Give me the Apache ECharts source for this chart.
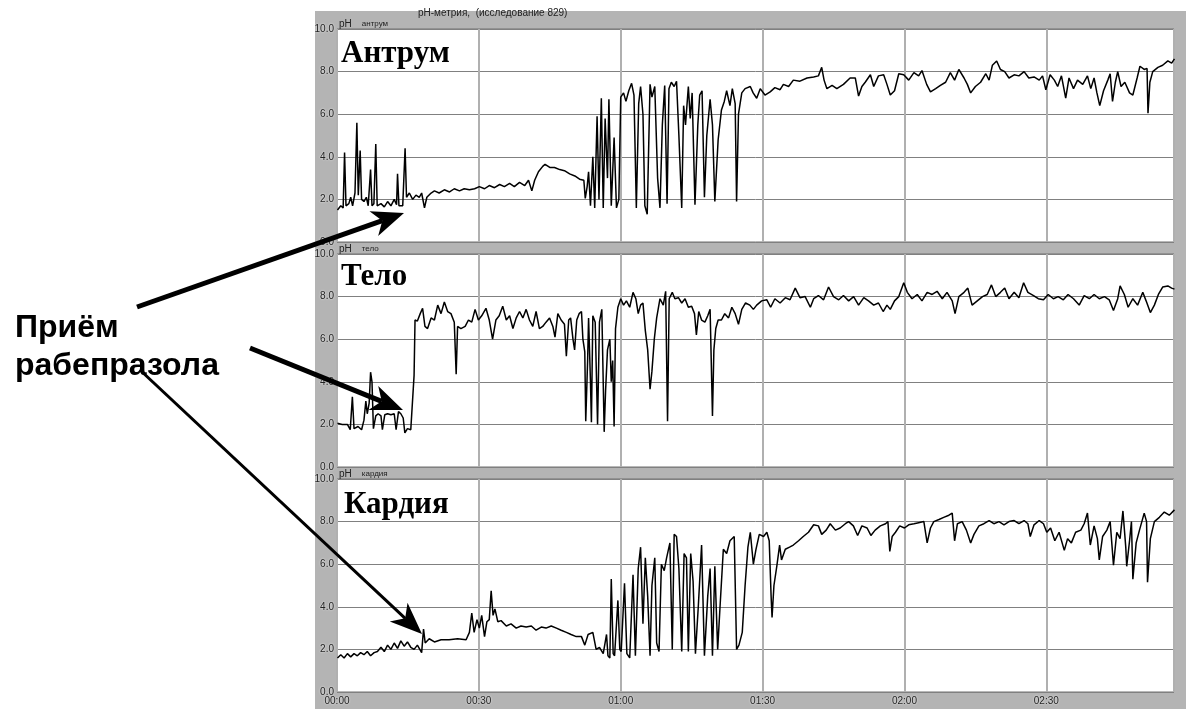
<!DOCTYPE html>
<html lang="ru">
<head>
<meta charset="UTF-8">
<title>pH-метрия</title>
<script src="https://cdn.jsdelivr.net/npm/echarts@6/dist/echarts.min.js"></script>
<style>
    html, body { margin: 0; padding: 0; background: #fff; }
    #chart { width: 1186px; height: 709px; }
</style>
</head>
<body>
<div id="chart"></div>
<script>
// время в минутах от начала, pH
var antrum = [
    [0.1,1.5],[0.8,1.7],[1.3,1.6],[1.6,4.2],[1.9,1.7],[2.5,1.8],[2.9,2.1],[3.3,1.7],[3.8,2.3],[4.2,5.6],
    [4.5,2.2],[4.9,4.3],[5.2,2.0],[5.7,1.9],[6.2,2.1],[6.6,1.7],[7.1,3.4],[7.4,1.7],[7.8,1.8],[8.2,4.6],
    [8.5,1.7],[9.3,1.8],[10.0,1.65],[10.7,1.9],[11.4,1.7],[12.1,2.0],[12.6,1.75],[12.8,3.2],[13.1,1.7],[13.9,1.7],
    [14.4,4.4],[14.7,2.1],[15.3,2.3],[16.0,2.0],[16.7,2.2],[17.4,2.1],[17.9,2.3],[18.5,1.6],[19.0,2.1],[19.9,2.3],
    [20.6,2.4],[21.6,2.3],[22.7,2.45],[23.8,2.35],[24.8,2.5],[25.9,2.4],[26.9,2.5],[28.0,2.45],[29.1,2.5],[30.1,2.6],
    [31.2,2.5],[32.2,2.65],[33.3,2.55],[34.4,2.7],[35.4,2.6],[36.5,2.75],[37.5,2.6],[38.6,2.8],[39.7,2.65],[40.5,2.9],
    [41.2,2.4],[41.8,2.9],[42.6,3.3],[43.5,3.55],[44.0,3.65],[45.0,3.5],[46.0,3.5],[47.1,3.4],[48.1,3.35],[49.2,3.2],
    [50.3,3.1],[51.3,2.95],[52.2,2.9],[52.5,2.05],[52.9,2.6],[53.2,3.3],[53.6,1.7],[54.1,4.0],[54.5,1.6],[55.0,5.9],
    [55.4,2.0],[55.9,6.75],[56.3,1.6],[56.7,5.8],[57.2,3.0],[57.5,6.7],[58.0,1.7],[58.6,4.9],[59.1,1.6],[59.6,2.0],
    [60.0,6.8],[60.6,7.0],[61.1,6.6],[61.7,7.1],[62.3,7.45],[62.8,6.9],[63.3,1.6],[63.8,6.5],[64.2,7.3],[64.7,6.0],
    [65.1,1.7],[65.6,1.3],[66.2,7.4],[66.6,6.8],[67.2,7.3],[67.8,3.0],[68.3,1.6],[68.8,5.5],[69.3,7.35],[69.8,1.8],
    [70.2,7.2],[70.7,7.5],[71.3,7.3],[71.8,7.55],[72.3,5.0],[72.9,1.6],[73.3,6.4],[73.7,5.5],[74.3,7.3],[74.7,5.8],
    [75.1,7.0],[75.7,1.75],[76.3,5.5],[76.7,6.9],[77.2,7.1],[77.7,2.1],[78.2,5.0],[78.9,6.7],[79.4,5.5],[79.9,1.9],
    [80.6,4.8],[81.3,6.2],[81.9,6.6],[82.4,7.1],[83.1,6.4],[83.6,7.2],[84.2,6.5],[84.5,1.9],[84.9,6.0],[85.6,7.0],
    [86.3,7.2],[87.4,7.3],[88.0,7.0],[88.75,6.75],[89.5,7.2],[90.5,6.9],[91.6,7.05],[92.6,7.25],[93.7,7.15],[94.4,7.4],
    [95.5,7.3],[96.5,7.6],[97.9,7.55],[99.4,7.7],[100.8,7.75],[101.8,7.8],[102.5,8.2],[103.0,7.6],[103.6,7.2],[104.7,7.35],
    [105.7,7.2],[107.1,7.4],[108.5,7.7],[109.6,7.7],[110.3,6.85],[111.0,7.3],[111.7,7.5],[112.8,7.85],[113.5,7.3],[114.5,7.8],
    [115.6,7.85],[116.3,7.4],[117.0,6.9],[117.9,7.1],[118.8,7.9],[119.85,7.85],[120.9,7.6],[122.0,7.95],[123.0,7.8],[123.7,8.05],
    [124.7,7.4],[125.5,7.05],[126.6,7.2],[127.6,7.35],[128.7,7.5],[129.7,7.95],[130.6,7.6],[131.5,8.1],[132.6,7.7],[133.3,7.4],
    [134.0,7.0],[135.0,7.3],[136.1,7.5],[137.2,7.9],[137.9,7.6],[138.6,8.3],[139.5,8.5],[140.3,8.1],[141.2,8.0],[142.1,7.7],
    [143.2,7.85],[144.2,7.8],[145.3,8.0],[146.3,7.7],[147.4,7.75],[148.5,7.6],[149.2,7.8],[149.9,7.15],[150.8,7.85],[151.7,7.6],
    [152.4,7.3],[153.2,7.8],[154.1,6.75],[154.8,7.7],[155.75,7.2],[156.6,7.6],[157.7,7.4],[158.7,7.8],[159.4,7.2],[160.1,7.7],
    [160.7,7.0],[161.3,6.4],[162.1,7.1],[163.0,7.6],[163.5,7.9],[164.0,6.6],[164.6,7.5],[165.1,8.0],[165.8,7.3],[166.6,7.5],
    [167.6,7.0],[168.3,6.9],[169.2,7.7],[169.8,8.25],[170.7,8.1],[171.3,8.15],[171.5,6.05],[171.9,7.5],[172.5,8.0],[173.6,8.2],
    [174.6,8.3],[175.7,8.5],[176.5,8.4],[177.1,8.6]
];
var telo = [
    [0.1,2.05],[1.1,2.0],[2.2,2.0],[2.8,1.75],[3.25,3.3],[3.6,1.8],[4.45,1.9],[5.2,1.75],[5.7,2.2],[6.1,3.1],
    [6.4,2.5],[6.8,3.0],[7.1,4.45],[7.4,4.0],[7.7,1.8],[8.2,2.4],[8.7,2.5],[9.3,2.4],[9.6,1.75],[10.1,2.45],
    [10.7,2.5],[11.4,2.45],[12.1,2.5],[12.5,1.75],[13.0,2.6],[13.5,2.5],[14.0,2.3],[14.35,1.6],[14.9,1.8],[15.6,1.75],
    [16.0,1.8],[16.3,4.3],[16.5,6.9],[17.0,6.85],[17.6,7.2],[18.1,7.45],[18.6,6.6],[19.15,6.5],[19.9,7.0],[20.6,6.9],
    [21.3,7.6],[22.0,7.2],[22.7,7.75],[23.4,7.3],[24.1,7.2],[24.8,6.8],[25.2,4.35],[25.5,6.6],[26.2,6.5],[27.1,6.6],
    [27.8,6.9],[28.5,6.8],[29.2,7.4],[29.9,6.9],[30.6,7.1],[31.5,7.45],[32.2,6.9],[32.9,6.0],[33.6,6.9],[34.3,7.1],
    [35.05,7.55],[35.8,6.9],[36.5,7.1],[37.2,6.5],[37.9,7.0],[38.6,7.3],[39.3,7.0],[40.0,7.4],[40.7,6.9],[41.4,6.6],
    [42.1,7.3],[42.8,6.5],[43.5,6.6],[44.2,6.8],[44.95,7.0],[45.65,6.6],[46.1,6.1],[46.7,7.2],[47.4,6.9],[48.1,6.7],
    [48.5,5.2],[49.0,6.9],[49.4,7.0],[49.9,6.0],[50.25,5.5],[50.7,6.9],[51.2,7.2],[51.7,7.3],[52.0,6.0],[52.4,5.4],
    [52.6,2.15],[53.0,5.0],[53.2,7.0],[53.6,4.0],[53.8,2.1],[54.1,7.1],[54.6,6.8],[55.1,2.0],[55.5,6.8],[56.0,7.4],
    [56.5,1.65],[56.8,3.6],[57.2,5.5],[57.7,6.0],[58.0,4.0],[58.3,5.0],[58.6,1.9],[58.9,6.5],[59.4,7.5],[60.0,7.9],
    [60.6,7.6],[61.2,7.8],[61.9,7.5],[62.6,8.2],[63.2,7.9],[63.7,7.2],[64.2,7.6],[64.7,7.7],[65.2,6.4],[65.7,5.5],
    [66.2,3.65],[66.6,4.5],[67.1,6.0],[67.6,7.0],[68.3,7.9],[69.0,7.6],[69.5,8.25],[69.9,2.15],[70.25,7.9],[70.9,8.2],
    [71.45,7.9],[72.2,7.95],[72.9,7.7],[73.6,7.9],[74.3,7.5],[75.0,7.55],[75.6,7.2],[76.0,6.2],[76.5,7.3],[77.1,6.9],
    [77.8,6.8],[78.4,7.1],[78.9,7.4],[79.4,2.4],[79.7,5.5],[80.1,6.5],[80.6,6.9],[81.3,6.9],[82.0,7.2],[82.8,7.0],
    [83.5,7.5],[84.2,7.2],[84.9,6.7],[85.6,7.4],[86.4,7.7],[87.3,7.6],[88.05,7.4],[88.75,7.6],[89.8,7.8],[90.9,7.85],
    [91.7,7.5],[92.6,7.9],[93.7,7.7],[94.8,7.95],[95.8,7.85],[96.9,8.4],[97.9,7.95],[99.0,8.0],[100.1,7.5],[100.8,7.9],
    [101.8,8.05],[102.9,7.85],[103.95,8.45],[105.0,8.0],[106.1,7.85],[107.1,8.05],[108.2,7.8],[109.25,8.0],[110.3,7.6],[111.4,7.95],
    [112.4,7.8],[113.5,7.6],[114.5,7.7],[115.5,7.3],[116.3,7.6],[117.0,7.4],[117.9,7.8],[118.8,8.0],[119.85,8.65],[120.6,8.2],
    [121.6,7.9],[122.7,8.1],[123.7,7.8],[124.8,8.2],[125.85,8.1],[126.9,8.25],[128.0,7.9],[129.0,8.2],[130.1,7.8],[130.7,7.2],
    [131.5,8.0],[132.6,8.2],[133.4,8.4],[134.3,7.6],[135.4,7.8],[136.5,8.0],[137.5,8.1],[138.4,8.55],[139.3,8.0],[140.3,8.2],
    [141.2,8.4],[142.1,7.9],[143.2,8.2],[144.2,7.95],[145.2,8.65],[146.1,8.2],[147.3,8.05],[148.3,7.9],[149.4,7.85],[150.4,8.1],
    [151.5,7.9],[152.5,8.0],[153.6,7.85],[154.6,8.1],[155.75,7.9],[156.95,7.6],[158.0,8.05],[159.1,7.9],[160.1,8.1],[161.2,7.9],
    [162.3,8.0],[163.3,7.85],[164.2,7.35],[165.1,7.9],[165.6,8.5],[166.5,8.1],[167.3,7.5],[168.3,7.9],[169.3,7.6],[170.4,8.2],
    [171.1,7.8],[172.0,7.25],[172.85,7.6],[173.7,8.1],[174.6,8.45],[175.7,8.5],[176.5,8.4],[177.1,8.35]
];
var kardia = [
    [0.1,1.6],[0.8,1.75],[1.5,1.6],[2.2,1.8],[2.9,1.65],[3.6,1.8],[4.3,1.7],[5.0,1.85],[5.7,1.75],[6.4,1.9],
    [7.1,1.7],[7.85,1.85],[8.55,1.9],[9.3,2.1],[10.0,1.9],[10.7,2.2],[11.4,2.0],[12.1,2.3],[12.8,2.05],[13.5,2.4],
    [14.2,2.15],[14.9,2.35],[15.6,2.1],[16.3,2.0],[17.0,2.2],[17.9,1.85],[18.3,2.95],[18.65,2.3],[19.5,2.5],[20.6,2.35],
    [22.0,2.45],[23.7,2.45],[25.5,2.5],[27.3,2.45],[28.0,2.8],[28.5,3.7],[29.0,2.8],[29.6,3.4],[30.1,3.0],[30.6,3.6],
    [31.2,2.6],[31.7,3.3],[32.2,3.4],[32.6,4.75],[33.0,3.6],[33.4,3.9],[34.0,3.3],[34.7,3.35],[35.8,3.1],[36.8,3.2],
    [37.9,3.0],[38.9,3.1],[40.0,3.05],[41.1,3.1],[42.1,2.9],[43.2,3.05],[44.2,3.0],[45.3,3.1],[46.4,3.0],[47.4,2.9],
    [48.5,2.8],[49.5,2.7],[50.6,2.6],[51.7,2.6],[52.4,2.2],[53.1,2.7],[54.1,2.8],[54.8,2.0],[55.5,2.1],[56.3,1.8],
    [57.0,2.7],[57.3,1.7],[57.7,1.6],[58.0,5.3],[58.4,1.8],[58.7,1.7],[59.4,4.3],[59.8,2.0],[60.1,1.9],[60.8,5.1],
    [61.3,1.8],[61.9,1.6],[62.6,5.5],[63.1,1.7],[63.7,5.8],[64.2,6.8],[64.7,3.2],[65.2,6.3],[65.7,4.5],[66.2,1.7],
    [66.6,5.0],[67.2,6.3],[67.6,2.3],[68.1,1.9],[68.6,6.0],[69.2,5.7],[69.7,6.3],[70.4,7.0],[70.9,2.0],[71.3,7.4],
    [71.8,7.3],[72.3,5.8],[72.9,1.9],[73.4,6.5],[73.9,6.3],[74.3,1.9],[74.8,6.5],[75.3,5.2],[75.8,1.8],[76.4,4.0],
    [77.1,6.9],[77.7,1.7],[78.4,4.5],[78.9,5.8],[79.4,1.7],[79.9,5.9],[80.5,2.0],[81.0,4.0],[81.7,6.7],[82.4,6.5],
    [83.1,7.1],[84.0,7.3],[84.5,2.0],[85.0,2.2],[85.7,2.8],[86.3,5.0],[86.9,6.8],[87.4,7.5],[88.05,6.0],[88.6,6.7],
    [89.3,7.4],[90.2,7.3],[90.9,7.5],[91.4,7.1],[91.8,4.5],[92.0,3.5],[92.4,5.0],[93.0,5.9],[93.6,6.9],[94.0,6.2],
    [94.8,6.7],[95.7,6.8],[96.5,6.9],[97.6,7.1],[98.6,7.3],[99.7,7.5],[100.8,7.85],[101.8,7.8],[102.5,7.4],[103.45,7.6],
    [104.3,7.9],[105.4,7.6],[106.4,7.7],[107.5,7.9],[108.2,8.0],[109.2,7.8],[110.1,7.35],[111.0,7.8],[112.1,7.7],[112.9,7.35],
    [113.8,7.6],[114.9,7.8],[116.0,7.9],[116.5,8.0],[116.9,6.6],[117.4,7.3],[118.1,7.5],[119.0,7.8],[120.0,7.7],[120.9,7.85],
    [122.0,7.9],[123.0,7.95],[124.1,8.0],[124.8,7.0],[125.5,7.7],[126.2,8.0],[127.3,8.1],[128.3,8.2],[129.4,8.3],[130.1,8.4],
    [130.6,7.1],[131.2,7.9],[132.2,8.0],[133.1,7.6],[134.0,7.0],[134.7,7.4],[135.75,7.8],[136.8,7.9],[137.9,8.05],[138.9,7.9],
    [140.0,8.0],[141.05,7.85],[142.1,8.0],[143.2,8.05],[144.2,7.9],[145.3,8.05],[146.1,7.9],[146.6,7.3],[147.4,7.85],[148.5,8.05],
    [149.4,7.9],[150.1,7.5],[150.9,7.7],[151.8,7.1],[152.7,7.5],[153.8,6.65],[154.5,7.2],[155.3,7.0],[156.2,7.5],[157.3,7.6],
    [158.0,7.9],[158.7,8.4],[159.3,6.9],[160.1,7.8],[160.8,7.2],[161.2,6.2],[161.9,7.3],[162.8,7.6],[163.5,8.0],[164.2,5.95],
    [164.9,7.5],[165.6,7.2],[166.2,8.5],[166.8,6.8],[167.0,5.9],[167.6,7.1],[168.0,8.0],[168.3,5.3],[169.0,7.0],[169.7,7.6],
    [170.7,8.4],[171.2,8.0],[171.4,5.15],[172.0,7.2],[172.85,8.0],[173.9,8.2],[174.95,8.45],[176.0,8.3],[177.1,8.55]
];

var timeLabels = ['00:00', '00:30', '01:00', '01:30', '02:00', '02:30'];
var panelNames = ['Антрум', 'Тело', 'Кардия'];
var channelNames = ['антрум', 'тело', 'кардия'];
var seriesData = [antrum, telo, kardia];

var panelTop = [29, 254, 479];
var titleOffset = [9, 7, 10];
var panelHeight = 213;
var plotLeft = 337;

var myChart = echarts.init(document.getElementById('chart'));

var labelStyle = {
    color: '#222',
    fontFamily: 'Liberation Sans',
    fontSize: 10,
    textShadowColor: '#fff',
    textShadowBlur: 2
};

var grids = [], xAxes = [], yAxes = [], series = [];
for (var i = 0; i < 3; i++) {
    grids.push({
        left: plotLeft, right: 12, top: panelTop[i], height: panelHeight,
        show: true, backgroundColor: '#fff', borderColor: '#707070', borderWidth: 1
    });
    xAxes.push({
        gridIndex: i, type: 'value', min: 0, max: 177, interval: 30,
        axisLine: { show: false }, axisTick: { show: false },
        axisLabel: Object.assign({
            show: i === 2, margin: 4, showMaxLabel: false,
            formatter: function (v) { return timeLabels[Math.round(v / 30)] || ''; }
        }, labelStyle),
        splitLine: { show: true, lineStyle: { color: '#b0b0b0', width: 2 } }
    });
    yAxes.push({
        gridIndex: i, type: 'value', min: 0, max: 10, interval: 2,
        axisLine: { show: false }, axisTick: { show: false },
        axisLabel: Object.assign({
            margin: 3,
            formatter: function (v) { return v.toFixed(1); }
        }, labelStyle),
        splitLine: { show: true, lineStyle: { color: '#808080', width: 1 } }
    });
    series.push({
        type: 'line', xAxisIndex: i, yAxisIndex: i,
        data: seriesData[i], showSymbol: false, animation: false,
        lineStyle: { color: '#000', width: 1.5 }
    });
}

// стрелки "Приём рабепразола"
var arrows = [
    { from: [137, 307], to: [404, 213], w: 5 },
    { from: [250, 348], to: [403, 410], w: 5 },
    { from: [140, 370], to: [422, 634], w: 3 }
];

var graphics = [{
    type: 'rect', z: -100, silent: true,
    shape: { x: 315, y: 11, width: 871, height: 698 },
    style: { fill: '#b4b4b4' }
}, {
    type: 'text', left: 418, top: 8, z: 10,
    style: { text: 'pH-метрия,  (исследование 829)', font: '10px "Liberation Sans"', fill: '#222' }
}];

for (var k = 0; k < 3; k++) {
    graphics.push({
        type: 'text', left: 339, top: panelTop[k] - 11, z: 10,
        style: {
            text: '{a|pH}   {b|' + channelNames[k] + '}',
            rich: {
                a: { font: '10px "Liberation Sans"', fill: '#222' },
                b: { font: '8px "Liberation Sans"', fill: '#222' }
            }
        }
    });
    graphics.push({
        type: 'text', left: 341 + (k === 2 ? 3 : 0), top: panelTop[k] + titleOffset[k], z: 10,
        style: { text: panelNames[k], font: 'bold 31px "Liberation Serif"', fill: '#000' }
    });
}

graphics.push({
    type: 'text', left: 15, top: 309, z: 20,
    style: { text: 'Приём\nрабепразола', font: 'bold 32px "Liberation Sans"', fill: '#000', lineHeight: 38 }
});

arrows.forEach(function (a) {
    var dx = a.to[0] - a.from[0], dy = a.to[1] - a.from[1];
    var len = Math.sqrt(dx * dx + dy * dy);
    var ux = dx / len, uy = dy / len, px = -uy, py = ux;
    var headLen = 32, headW = 13, notch = 9;
    var bx = a.to[0] - ux * headLen, by = a.to[1] - uy * headLen;
    var nx = a.to[0] - ux * (headLen - notch), ny = a.to[1] - uy * (headLen - notch);
    graphics.push({
        type: 'line', z: 20, silent: true,
        shape: { x1: a.from[0], y1: a.from[1], x2: nx, y2: ny },
        style: { stroke: '#000', lineWidth: a.w }
    });
    graphics.push({
        type: 'polygon', z: 20, silent: true,
        shape: { points: [a.to, [bx + px * headW, by + py * headW], [nx, ny], [bx - px * headW, by - py * headW]] },
        style: { fill: '#000' }
    });
});

var option = {
    animation: false,
    grid: grids,
    xAxis: xAxes,
    yAxis: yAxes,
    series: series,
    graphic: graphics
};
myChart.setOption(option);
</script>
</body>
</html>
